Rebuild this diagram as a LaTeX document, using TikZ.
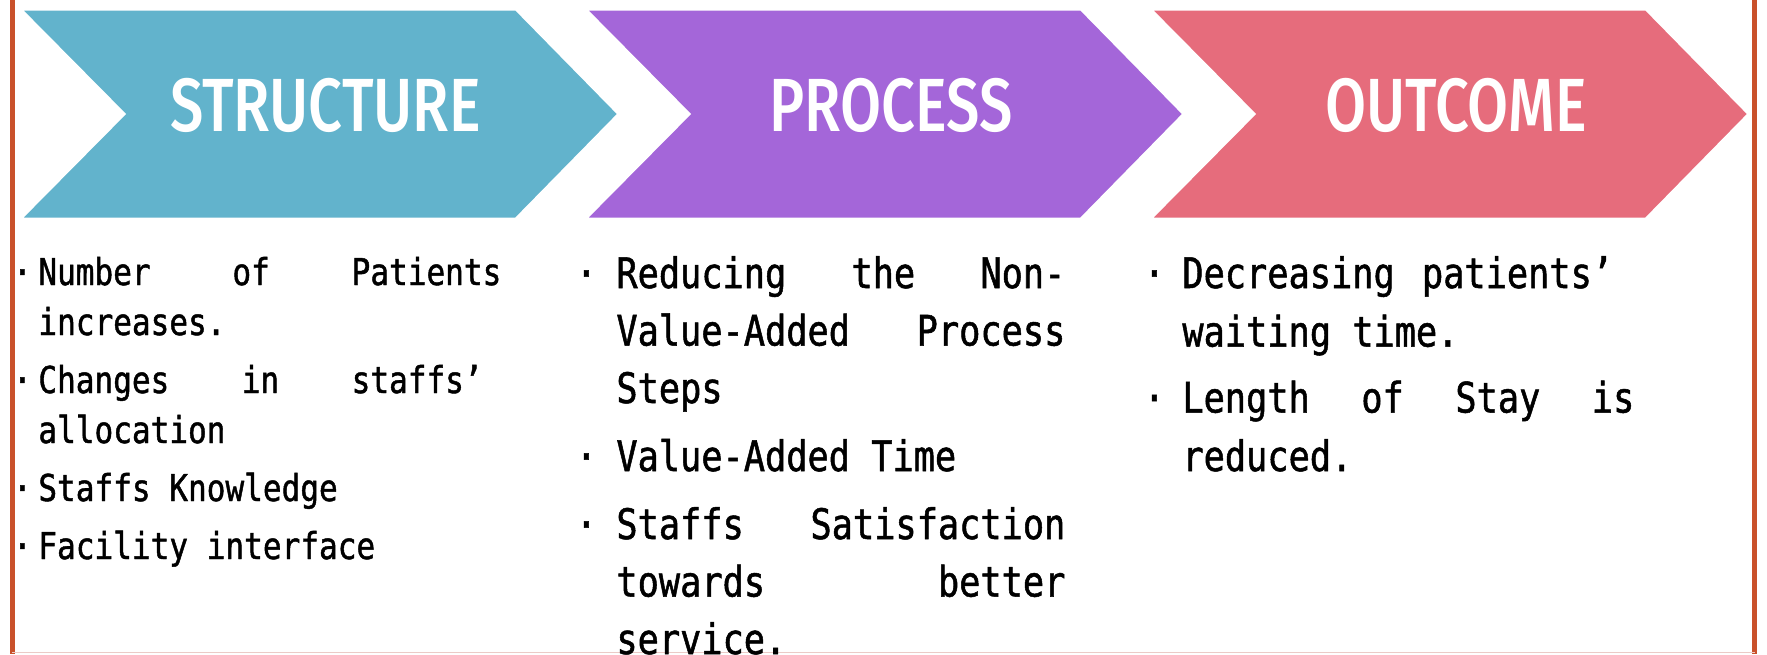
\documentclass[tikz,border=0pt]{standalone}
\usepackage{fontspec}
\setmainfont{DejaVu Sans}
\newfontfamily\headfont[UprightFont=* Medium, FakeStretch=0.79]{Fira Sans}
\newfontfamily\listfont[FakeStretch=0.84, FakeBold=1.2]{DejaVu Sans Mono}

\definecolor{chevblue}{HTML}{62B3CC}
\definecolor{chevpurple}{HTML}{A466D9}
\definecolor{chevred}{HTML}{E66C7C}
\definecolor{frameorange}{HTML}{C9512B}
\definecolor{framepink}{HTML}{EBCBC7}

\newlength\pxu \setlength\pxu{0.5pt}
\newlength\bulletbox

% one bullet point, the dot hangs left of the text
\newcommand\entry[1]{\par\noindent\llap{\makebox[\bulletbox]{·}}#1\par}

% width, font size, line pitch, parskip, bullet box, items
\newcommand\listbox[6]{%
  \parbox[t]{#1\pxu}{\listfont\fontsize{#2}{#3}\selectfont
    \setlength\parskip{#4}\setlength\bulletbox{#5\pxu}%
    \spaceskip=\fontdimen2\font plus 10em\relax
    \tolerance=10000 \hbadness=10000 \hyphenpenalty=10000
    #6}}

\tikzset{
  chevron/.style={draw=white, line width=1.5pt, line join=miter},
  title/.style={anchor=base, inner sep=0pt, text=white,
    font=\headfont\fontsize{37.7pt}{42pt}\selectfont},
  listcol/.style={anchor=base west, inner sep=0pt},
  frameline/.style={frameorange, line width=2.75pt}
}

\begin{document}
\begin{tikzpicture}[x=0.5pt, y=-0.5pt]
	\useasboundingbox (0,0) rectangle (1767,654);

	% frame
	\draw[frameline] (12.3,0) -- (12.3,654);
	\draw[frameline] (1754.5,0) -- (1754.5,654);
	\draw[framepink, line width=0.75pt] (12.3,652.7) -- (1754.5,652.7);

	% chevrons
	\foreach \x/\col in {20/chevblue, 585/chevpurple, 1150/chevred}
		\draw[chevron, fill=\col] (\x,9) -- ++(496,0) -- ++(103,105) -- ++(-103,105)
			-- ++(-496,0) -- ++(104,-105) -- cycle;

	\node [title] (structure) at (325.5,131) {STRUCTURE};
	\node [title] (process) at (891,131) {PROCESS};
	\node [title] (outcome) at (1456,131) {OUTCOME};

	% lists under the chevrons
	\node [listcol] (structurelist) at (38,285) {\listbox{463}{18.5pt}{25pt}{4pt}{32}{%
		\entry{Number of Patients\linebreak increases.}
		\entry{Changes in staffs’\hphantom{x}\linebreak allocation}
		\entry{Staffs Knowledge}
		\entry{Facility interface}}};

	\node [listcol] (processlist) at (616,288) {\listbox{449}{21pt}{28.75pt}{5.25pt}{60}{%
		\entry{Reducing the Non-\linebreak Value-Added Process\linebreak Steps}
		\entry{Value-Added Time}
		\entry{Staffs Satisfaction\linebreak towards better\linebreak service.}}};

	\node [listcol] (outcomelist) at (1182,288) {\listbox{452}{21pt}{29.25pt}{3.75pt}{56}{%
		\entry{Decreasing patients’\hphantom{x}\linebreak waiting time.}
		\entry{Length of Stay is\linebreak reduced.}}};
\end{tikzpicture}
\end{document}
